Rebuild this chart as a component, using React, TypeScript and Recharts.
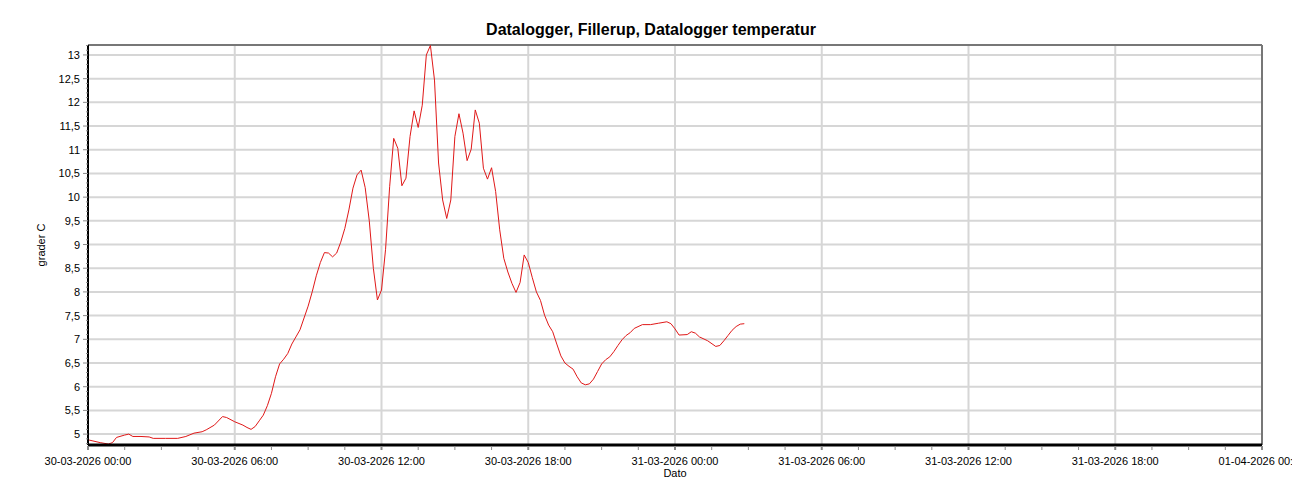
import { LineChart, Line, XAxis, YAxis, CartesianGrid, ReferenceLine } from 'recharts';

// logger readings, 10 min interval (dd-mm hh:mm)
const times = [
  '30-03 00:00', '30-03 00:10', '30-03 00:30', '30-03 00:50', '30-03 01:00', '30-03 01:10',
  '30-03 01:30', '30-03 01:40', '30-03 01:50', '30-03 02:10', '30-03 02:30', '30-03 02:40',
  '30-03 03:10', '30-03 03:40', '30-03 04:00', '30-03 04:20', '30-03 04:40', '30-03 04:50',
  '30-03 05:10', '30-03 05:30', '30-03 05:40', '30-03 06:00', '30-03 06:20', '30-03 06:30',
  '30-03 06:40', '30-03 06:50', '30-03 07:00', '30-03 07:10', '30-03 07:20', '30-03 07:30',
  '30-03 07:40', '30-03 07:50', '30-03 08:00', '30-03 08:10', '30-03 08:20', '30-03 08:30',
  '30-03 08:40', '30-03 08:50', '30-03 09:00', '30-03 09:10', '30-03 09:20', '30-03 09:30',
  '30-03 09:40', '30-03 09:50', '30-03 10:00', '30-03 10:10', '30-03 10:20', '30-03 10:30',
  '30-03 10:40', '30-03 10:50', '30-03 11:00', '30-03 11:10', '30-03 11:20', '30-03 11:30',
  '30-03 11:40', '30-03 11:50', '30-03 12:00', '30-03 12:10', '30-03 12:20', '30-03 12:30',
  '30-03 12:40', '30-03 12:50', '30-03 13:00', '30-03 13:10', '30-03 13:20', '30-03 13:30',
  '30-03 13:40', '30-03 13:50', '30-03 14:00', '30-03 14:10', '30-03 14:20', '30-03 14:30',
  '30-03 14:40', '30-03 14:50', '30-03 15:00', '30-03 15:10', '30-03 15:20', '30-03 15:30',
  '30-03 15:40', '30-03 15:50', '30-03 16:00', '30-03 16:10', '30-03 16:20', '30-03 16:30',
  '30-03 16:40', '30-03 16:50', '30-03 17:00', '30-03 17:10', '30-03 17:20', '30-03 17:30',
  '30-03 17:40', '30-03 17:50', '30-03 18:00', '30-03 18:10', '30-03 18:20', '30-03 18:30',
  '30-03 18:40', '30-03 18:50', '30-03 19:00', '30-03 19:10', '30-03 19:20', '30-03 19:30',
  '30-03 19:40', '30-03 19:50', '30-03 20:00', '30-03 20:10', '30-03 20:20', '30-03 20:30',
  '30-03 20:40', '30-03 20:50', '30-03 21:00', '30-03 21:10', '30-03 21:20', '30-03 21:30',
  '30-03 21:40', '30-03 21:50', '30-03 22:00', '30-03 22:10', '30-03 22:20', '30-03 22:40',
  '30-03 23:00', '30-03 23:20', '30-03 23:40', '30-03 23:50', '31-03 00:00', '31-03 00:10',
  '31-03 00:30', '31-03 00:40', '31-03 00:50', '31-03 01:00', '31-03 01:20', '31-03 01:40',
  '31-03 01:50', '31-03 02:00', '31-03 02:10', '31-03 02:20', '31-03 02:30', '31-03 02:40',
  '31-03 02:50',
];

const temps = [
  4.88, 4.86, 4.82, 4.79, 4.82, 4.93,
  4.98, 5.0, 4.95, 4.95, 4.94, 4.91,
  4.91, 4.91, 4.95, 5.02, 5.05, 5.09,
  5.19, 5.37, 5.35, 5.26, 5.19, 5.14,
  5.1, 5.16, 5.28, 5.4, 5.6, 5.86,
  6.21, 6.48, 6.58, 6.7, 6.9, 7.05,
  7.2, 7.45, 7.7, 8.0, 8.34, 8.62,
  8.83, 8.82, 8.74, 8.82, 9.05, 9.34,
  9.73, 10.19, 10.47, 10.57, 10.2, 9.5,
  8.5, 7.83, 8.04, 8.9, 10.22, 11.24,
  11.03, 10.24, 10.4, 11.28, 11.82, 11.47,
  11.94, 13.0, 13.2, 12.47, 10.72, 9.94,
  9.55, 9.94, 11.28, 11.76, 11.35, 10.77,
  11.01, 11.84, 11.56, 10.61, 10.38, 10.62,
  10.12, 9.31, 8.71, 8.42, 8.18, 7.99,
  8.2, 8.78, 8.62, 8.3, 8.0, 7.82,
  7.51, 7.3, 7.16, 6.9, 6.65, 6.5,
  6.43, 6.37, 6.21, 6.08, 6.04, 6.06,
  6.16, 6.32, 6.48, 6.57, 6.63, 6.74,
  6.87, 6.99, 7.08, 7.14, 7.23, 7.31,
  7.31, 7.34, 7.37, 7.33, 7.22, 7.09,
  7.1, 7.16, 7.13, 7.05, 6.97, 6.85,
  6.87, 6.97, 7.08, 7.19, 7.27, 7.32,
  7.33,
];

const xLabels = [
  '30-03-2026 00:00', '30-03-2026 06:00', '30-03-2026 12:00', '30-03-2026 18:00',
  '31-03-2026 00:00', '31-03-2026 06:00', '31-03-2026 12:00', '31-03-2026 18:00',
  '01-04-2026 00:00',
];

const yMajor = [5, 5.5, 6, 6.5, 7, 7.5, 8, 8.5, 9, 9.5, 10, 10.5, 11, 11.5, 12, 12.5, 13];

const Y_MIN = 4.77;
const Y_MAX = 13.21;
const X_MAX = 2880; // minutes, 48 h

// minutes since 30-03 00:00
const toMinutes = (s: string) => {
  const day = Number(s.slice(0, 2));
  const month = Number(s.slice(3, 5));
  const h = Number(s.slice(6, 8));
  const m = Number(s.slice(9, 11));
  const dayIdx = month === 3 ? day - 30 : day + 1;
  return dayIdx * 1440 + h * 60 + m;
};

const data = times.map((t, i) => ({ t: toMinutes(t), temp: temps[i] }));

const xMajorVals = xLabels.map((_, i) => i * 360);
const xTicks: number[] = [];
for (let v = 0; v <= X_MAX; v += 90) xTicks.push(v);

const yTicks: number[] = [];
for (let i = 48; i <= 132; i++) yTicks.push(i / 10);

const isHalf = (v: number) => Math.abs(v * 2 - Math.round(v * 2)) < 1e-6;
const fmt = (v: number) => String(v).replace('.', ',');

const FONT = '"Liberation Sans", Arial, sans-serif';

function YTick({ x, y, payload }: any) {
  const v = payload.value as number;
  const major = isHalf(v);
  return (
    <g>
      <line x1={x - (major ? 5 : 2)} x2={x} y1={y} y2={y} stroke="#8a8a8a" strokeWidth={1} />
      {major && (
        <text x={x - 8} y={y} dy={4} textAnchor="end" fontSize={11} fontFamily={FONT} fill="#000">
          {fmt(v)}
        </text>
      )}
    </g>
  );
}

function XTick({ x, y, payload }: any) {
  const v = payload.value as number;
  const idx = v / 360;
  const major = Number.isInteger(idx);
  return (
    <g>
      <line x1={x} x2={x} y1={y + 1} y2={y + 5} stroke="#8a8a8a" strokeWidth={major ? 2 : 1} />
      {major && (
        <text x={x} y={y + 20} textAnchor="middle" fontSize={11} fontFamily={FONT} fill="#000">
          {xLabels[idx]}
        </text>
      )}
    </g>
  );
}

export default function App() {
  return (
    <div style={{ position: 'relative', width: 1292, height: 484, fontFamily: FONT }}>
      <div
        style={{
          position: 'absolute',
          top: 12,
          left: 0,
          width: 1286,
          textAlign: 'center',
          fontSize: 16,
          fontWeight: 'bold',
          lineHeight: '20px',
        }}
      >
        Datalogger, Fillerup, Datalogger temperatur
      </div>
      <div
        style={{
          position: 'absolute',
          left: 33,
          top: 237,
          transform: 'translate(-50%, -50%) rotate(-90deg)',
          fontSize: 11,
          whiteSpace: 'nowrap',
        }}
      >
        grader C
      </div>
      <div
        style={{
          position: 'absolute',
          left: 667,
          top: 465,
          transform: 'translate(-50%, -50%)',
          fontSize: 11,
        }}
      >
        Dato
      </div>
      <LineChart width={1292} height={484} data={data} margin={{ top: 37, right: 38, bottom: 17, left: 20 }}>
        <CartesianGrid
          stroke="#d6d6d6"
          strokeWidth={2}
          horizontalValues={yMajor}
          verticalValues={xMajorVals}
        />
        <ReferenceLine y={Y_MAX} stroke="#777" strokeWidth={2} />
        <ReferenceLine x={X_MAX} stroke="#777" strokeWidth={2} />
        <XAxis
          dataKey="t"
          type="number"
          domain={[0, X_MAX]}
          ticks={xTicks}
          interval={0}
          tick={<XTick />}
          tickLine={false}
          tickSize={0}
          tickMargin={0}
          height={30}
          axisLine={{ stroke: '#000', strokeWidth: 3 }}
        />
        <YAxis
          type="number"
          domain={[Y_MIN, Y_MAX]}
          ticks={yTicks}
          interval={0}
          tick={<YTick />}
          tickLine={false}
          tickSize={0}
          tickMargin={0}
          width={60}
          axisLine={{ stroke: '#000', strokeWidth: 2 }}
          allowDataOverflow
        />
        <Line
          type="linear"
          dataKey="temp"
          stroke="#e01818"
          strokeWidth={1}
          dot={false}
          isAnimationActive={false}
        />
      </LineChart>
    </div>
  );
}
